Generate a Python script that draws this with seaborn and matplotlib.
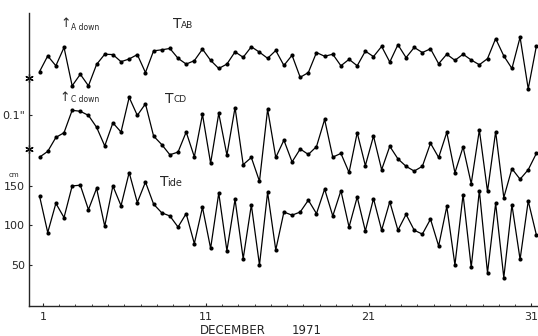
import numpy as np
import pandas as pd
import seaborn as sns
import matplotlib
matplotlib.use("Agg")
import matplotlib.pyplot as plt

sns.set_style("ticks")
plt.rcParams["font.family"] = ["DejaVu Sans"]

# half-daily observations, December 1971
days = 0.8 + 0.5 * np.arange(62)

# deflection A (arcsec, relative to its base mark)
t_ab = [0.019, 0.065, 0.036, 0.090, -0.023, 0.011, -0.023, 0.040, 0.070, 0.069,
        0.048, 0.056, 0.069, 0.016, 0.080, 0.083, 0.087, 0.058, 0.041, 0.051,
        0.085, 0.052, 0.028, 0.041, 0.077, 0.061, 0.092, 0.076, 0.058, 0.081,
        0.037, 0.067, 0.002, 0.016, 0.075, 0.064, 0.070, 0.036, 0.055, 0.036,
        0.079, 0.063, 0.093, 0.047, 0.098, 0.060, 0.090, 0.075, 0.086, 0.042,
        0.070, 0.052, 0.070, 0.053, 0.039, 0.057, 0.116, 0.065, 0.028, 0.120,
        -0.032, 0.094]

# deflection C (arcsec, relative to its base mark)
t_cd = [-0.024, -0.007, 0.034, 0.048, 0.114, 0.111, 0.099, 0.064, 0.009, 0.077,
        0.050, 0.152, 0.099, 0.133, 0.038, 0.013, -0.017, -0.009, 0.050, -0.023,
        0.102, -0.042, 0.105, -0.018, 0.122, -0.046, -0.025, -0.095, 0.117, -0.025,
        0.026, -0.038, 0.000, -0.016, 0.007, 0.087, -0.024, -0.013, -0.069, 0.048,
        -0.049, 0.038, -0.061, 0.008, -0.029, -0.051, -0.065, -0.051, 0.017, -0.025,
        0.049, -0.070, 0.006, -0.102, 0.056, -0.125, 0.051, -0.143, -0.058, -0.089,
        -0.061, -0.013]

# tide height (cm)
tide = [137, 91, 128, 110, 150, 151, 120, 147, 99, 150,
        125, 167, 129, 155, 127, 116, 112, 98, 115, 77,
        123, 71, 141, 68, 133, 58, 126, 50, 142, 69,
        117, 113, 117, 132, 115, 146, 112, 144, 98, 136,
        93, 134, 94, 130, 94, 114, 94, 89, 108, 74,
        124, 50, 139, 47, 144, 40, 128, 34, 126, 57,
        131, 88]

# offsets of the two deflection curves on the cm scale
ab_base = 286.7
cd_base = 196.8
arcsec_to_cm = 430.0

df = pd.DataFrame({
    "day": np.tile(days, 3),
    "value": np.concatenate([ab_base + np.array(t_ab) * arcsec_to_cm,
                             cd_base + np.array(t_cd) * arcsec_to_cm,
                             np.array(tide, dtype=float)]),
    "series": ["AB"] * 62 + ["CD"] * 62 + ["Tide"] * 62,
})

fig = plt.figure(figsize=(5.38, 3.36), dpi=100)
ax = fig.add_axes([29 / 538, 30 / 336, 1 - 29 / 538, (306 - 13) / 336])

for name in ["AB", "CD", "Tide"]:
    sns.lineplot(data=df[df["series"] == name], x="day", y="value",
                 estimator=None, color="black", lw=0.9, marker="o",
                 markersize=3, markeredgewidth=0, ax=ax)

ax.set_xlim(0.15, 31.4)
ax.set_ylim(-2, 369)
ax.set_xlabel("")
ax.set_ylabel("")

sns.despine(ax=ax)
ax.spines["left"].set_linewidth(1.0)
ax.spines["bottom"].set_linewidth(1.0)

ax.set_xticks([1, 11, 21, 31])
ax.set_xticklabels(["1", "11", "21", "31"], fontsize=8)
ax.set_xticks(np.arange(1, 32, 1), minor=True)
ax.tick_params(axis="x", which="major", direction="in", length=2, pad=4)
ax.tick_params(axis="x", which="minor", direction="in", length=1.5)

ax.set_yticks([50, 100, 150, cd_base + 0.1 * arcsec_to_cm])
ax.set_yticklabels(["50", "100", "150", '0.1"'], fontsize=8)
ax.tick_params(axis="y", direction="in", length=2, pad=3)

# base marks of the deflection curves, sitting on the axis
for base in [ab_base, cd_base]:
    ax.plot([0.15], [base], marker=(6, 2, 0), markersize=6, color="black",
            markeredgewidth=0.9, clip_on=False)

ax.annotate("cm", xy=(-0.03, 160), xycoords=("axes fraction", "data"),
            ha="center", va="bottom", fontsize=5)

def px_day(px):
    return 1 + (px - 42.7) / 16.3

def py_cm(py):
    return (304.5 - py) / 0.79

# curve labels
ax.text(px_day(173), py_cm(24), "T", fontsize=10, va="center")
ax.text(px_day(181), py_cm(25), "AB", fontsize=6.5, va="center")
ax.text(px_day(165), py_cm(99), "T", fontsize=10, va="center")
ax.text(px_day(173), py_cm(100), "CD", fontsize=6.5, va="center")
ax.text(px_day(160), py_cm(182), "T", fontsize=10, va="center")
ax.text(px_day(167), py_cm(183), "ide", fontsize=7, va="center")

ax.text(px_day(60), py_cm(23), "\u2191", fontsize=9, va="center")
ax.text(px_day(71), py_cm(27), "A down", fontsize=5.5, va="center")
ax.text(px_day(59), py_cm(98), "\u2191", fontsize=9, va="center")
ax.text(px_day(71), py_cm(100), "C down", fontsize=5.5, va="center")

fig.text(200 / 538, 1 - 331 / 336, "DECEMBER", fontsize=8.5, va="center")
fig.text(292 / 538, 1 - 331 / 336, "1971", fontsize=8.5, va="center")

fig.savefig("out.png", dpi=100)
